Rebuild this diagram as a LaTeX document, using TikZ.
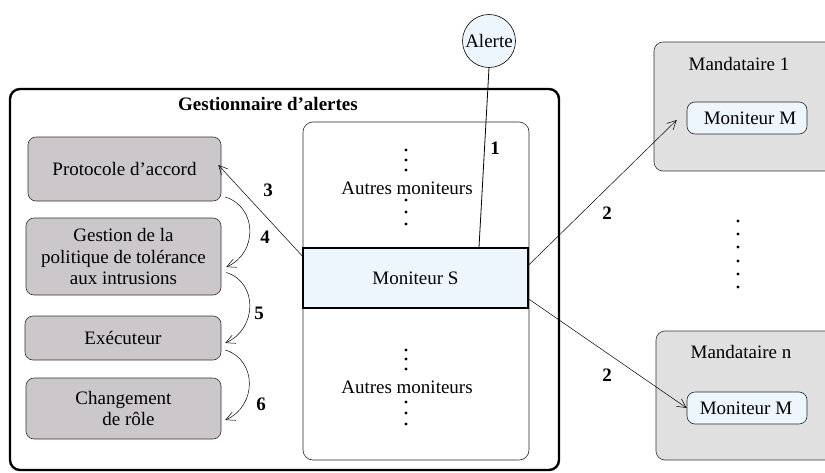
\documentclass[tikz,border=0pt]{standalone}
\usepackage{fontspec}
\setmainfont{Liberation Serif}
\usetikzlibrary{arrows.meta,calc}
\definecolor{boxgray}{HTML}{CBC7CB}
\definecolor{mandgray}{HTML}{E0E0E0}
\definecolor{lightblue}{HTML}{EEF6FD}
\begin{document}
\begin{tikzpicture}[x=1pt,y=-1pt,
  every node/.style={font=\fontsize{19}{21.5}\selectfont},
  graybox/.style={draw=black!80, fill=boxgray, rounded corners=8pt, inner sep=0pt, align=center, line width=0.6pt},
  mandbox/.style={draw=black!80, fill=mandgray, rounded corners=9pt, line width=0.6pt},
  monbox/.style={draw=black!85, fill=lightblue, rounded corners=8pt, inner sep=0pt, minimum width=120pt, minimum height=32pt, line width=0.6pt},
  num/.style={font=\fontsize{19}{21.5}\selectfont\bfseries},
  arr/.style={-{Straight Barb[length=9pt,width=9pt]}, line width=0.5pt},
  dotc/.style={circle, fill=black, inner sep=0pt, minimum size=3.4pt}
]
\useasboundingbox (0,0) rectangle (825,472);

% outer manager box
\draw[line width=2.4pt, rounded corners=10pt] (10,89) rectangle (559,470);
\node[num] (title) at (268,104) {Gestionnaire d’alertes};

% monitor column
\draw[line width=0.6pt, draw=black!85, rounded corners=10pt] (303,122) rectangle (529,460);
\node[draw, line width=1.4pt, fill=lightblue, minimum width=225pt, minimum height=60pt, inner sep=0pt] (ms) at (415.5,278) {Moniteur S};

\node (am1) at (407,188) {Autres moniteurs};
\node (am2) at (407,387) {Autres moniteurs};
\foreach \y in {150,160,170,200,212,224,350,359,369,402,413,424}
  \node[dotc] at (406,\y) {};

% alert
\node[draw, circle, fill=lightblue, minimum size=53pt, inner sep=0pt, line width=0.6pt] (al) at (489,41) {};
\node at (al.center) {Alerte};
\draw[line width=0.8pt] (al.south) -- ([xshift=63.5pt]ms.north);
\node[num] (n1) at (495,148) {1};

% left boxes
\node[graybox, minimum width=193pt, minimum height=64pt] (proto) at (124.5,169) {Protocole d’accord};
\node[graybox, minimum width=195pt, minimum height=77pt] (gest) at (123.5,256.5) {Gestion de la\\politique de tolérance\\aux intrusions};
\node[graybox, minimum width=196pt, minimum height=44pt] (exec) at (123,338) {Exécuteur};
\node[graybox, minimum width=195pt, minimum height=61pt] (chg) at (123.5,408.5) {Changement\\\hspace*{10pt}de rôle};

\draw[arr] ([yshift=22pt]ms.west) -- ([xshift=-3pt,yshift=4pt]proto.east);
\node[num] (n3) at (268,190) {3};

\draw[arr] ([xshift=4pt,yshift=-28pt]proto.east) .. controls +(32,10) and +(32,-14) .. ([xshift=5pt,yshift=-10.5pt]gest.east);
\node[num] (n4) at (265,237) {4};
\draw[arr] ([xshift=5pt,yshift=-16pt]gest.east) .. controls +(32,10) and +(32,-14) .. ([xshift=4pt,yshift=-5pt]exec.east);
\node[num] (n5) at (259,313) {5};
\draw[arr] ([xshift=4pt,yshift=-12pt]exec.east) .. controls +(32,10) and +(32,-14) .. ([xshift=4pt,yshift=-11.5pt]chg.east);
\node[num] (n6) at (261,404) {6};

% mandataires
\draw[mandbox] (654,42) rectangle (845,171);
\node (m1) at (739,64) {Mandataire 1};
\node[monbox] (mm1) at (747,118) {\hspace*{6pt}Moniteur M};
\draw[mandbox] (656,331) rectangle (845,460);
\node (mn) at (741,352) {Mandataire n};
\node[monbox] (mmn) at (747,408) {\hspace*{-2pt}Moniteur M};

\foreach \y in {221,234,247,261,274,287}
  \node[dotc] at (738,\y) {};

\draw[arr] ([yshift=13pt]ms.east) -- ([xshift=-10pt,yshift=-2pt]mm1.west);
\node[num] (n2a) at (607,213) {2};
\draw[arr] ([yshift=-21pt]ms.east) -- (mmn.west);
\node[num] (n2b) at (607,375) {2};
\end{tikzpicture}
\end{document}
